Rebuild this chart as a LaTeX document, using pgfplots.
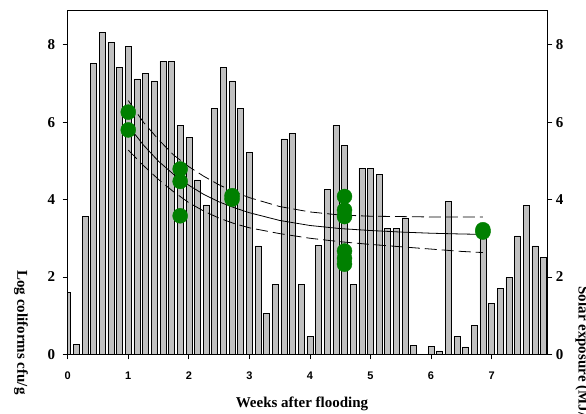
\documentclass[border=0pt]{standalone}
\usepackage{fontspec}
\setmainfont{Liberation Serif}
\setsansfont{Liberation Sans}
\usepackage{pgfplots}
\usepackage{pgfplotstable}
\pgfplotsset{compat=1.18}

\definecolor{barfill}{RGB}{192,192,192}
\definecolor{ptgreen}{RGB}{0,128,0}

% daily solar exposure (bars, right axis)
\pgfplotstableread{
day solar
0 1.61
1 0.26
2 3.56
3 7.52
4 8.33
5 8.07
6 7.42
7 7.96
8 7.12
9 7.27
10 7.07
11 7.57
12 7.57
13 5.91
14 5.61
15 4.51
16 3.86
17 6.36
18 7.42
19 7.07
20 6.36
21 5.22
22 2.80
23 1.05
24 1.80
25 5.57
26 5.71
27 1.81
28 0.46
29 2.82
30 4.27
31 5.91
32 5.41
33 1.81
34 4.81
35 4.81
36 4.66
37 3.25
38 3.25
39 3.52
40 0.24
41 0
42 0.20
43 0.09
44 3.95
45 0.46
46 0.19
47 0.75
48 3.00
49 1.31
50 1.71
51 1.98
52 3.06
53 3.85
54 2.80
55 2.50
}\solar

% log coliform counts (points, left axis)
\pgfplotstableread{
week logc
1 6.26
1 5.80
1.857 4.79
1.857 4.47
1.857 3.58
2.714 4.10
2.714 4.01
4.571 4.08
4.571 3.73
4.571 3.56
4.571 2.67
4.571 2.48
4.571 2.33
6.857 3.22
6.857 3.16
}\counts

% fitted decay and its bounds
\pgfplotstableread{
week fit lower upper
1.00 5.91 5.28 6.56
1.25 5.41 4.88 6.00
1.50 4.99 4.52 5.55
1.75 4.65 4.20 5.15
2.00 4.37 3.92 4.85
2.25 4.13 3.70 4.60
2.50 3.94 3.52 4.38
2.75 3.79 3.38 4.20
3.00 3.66 3.27 4.05
3.50 3.46 3.12 3.82
4.00 3.33 3.00 3.68
4.50 3.25 2.91 3.60
5.00 3.20 2.84 3.57
5.50 3.16 2.78 3.56
6.00 3.13 2.72 3.55
6.50 3.11 2.66 3.55
6.857 3.10 2.63 3.55
}\fit

\pgfplotsset{
  frame/.style={
    scale only axis, width=479.6pt, height=344.3pt,
    at={(0pt,0pt)}, anchor=south west,
    xmin=0, xmax=7.92, ymin=0, ymax=8.9,
    tick align=outside, major tick length=5pt,
    ytick={0,2,4,6,8},
    axis line style={line width=0.8pt},
    every tick/.style={line width=0.8pt},
    /pgf/number format/assume math mode=true,
    yticklabel style={font=\fontsize{15}{15}\selectfont\bfseries},
  },
}

\begin{document}
\begin{tikzpicture}
\begin{axis}[frame, ybar, bar width=6pt,
  xtick=\empty, ytick pos=right, yticklabel pos=right]
\addplot[fill=barfill, draw=black, line width=0.6pt]
  table[x expr=\thisrow{day}/7, y=solar] {\solar};
\end{axis}

\begin{axis}[frame, ytick pos=left, xtick pos=bottom,
  xtick={0,1,2,3,4,5,6,7},
  yticklabel style={xshift=-4pt},
  xticklabel style={yshift=-9pt, font=\sffamily\bfseries\fontsize{11}{11}\selectfont}]
\addplot[black, line width=0.8pt] table[x=week, y=fit] {\fit};
\addplot[black, line width=0.8pt, dash pattern=on 12pt off 5pt] table[x=week, y=upper] {\fit};
\addplot[black, line width=0.8pt, dash pattern=on 12pt off 5pt] table[x=week, y=lower] {\fit};
\addplot[only marks, mark=*, mark size=7.5pt, color=ptgreen, fill=ptgreen]
  table[x=week, y=logc] {\counts};
\end{axis}

\node[anchor=base, font=\fontsize{15}{15}\selectfont\bfseries]
  at (234.3pt,-53pt) {Weeks after flooding};
\node[rotate=-90, font=\fontsize{15}{15}\selectfont\bfseries]
  at (-46.7pt,21.8pt) {Log coliforms cfu/g};
\node[rotate=-90, anchor=west, font=\fontsize{15}{15}\selectfont\bfseries]
  at (515.3pt,71.3pt) {Solar exposure (MJ/m$^{\mathbf{2}}$)};

\pgfresetboundingbox
\path[use as bounding box] (-67.7pt,-58.7pt) rectangle (518.3pt,354.3pt);
\end{tikzpicture}
\end{document}
